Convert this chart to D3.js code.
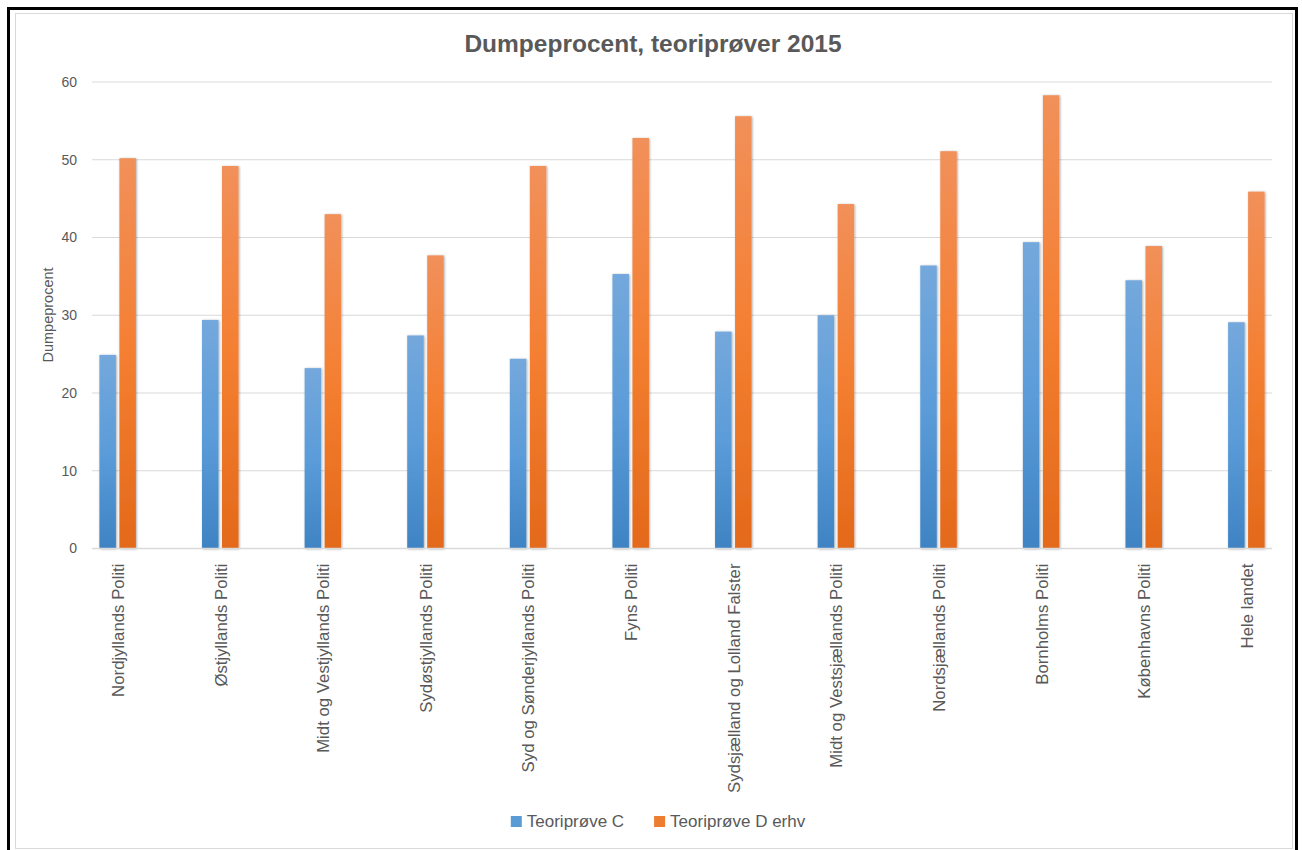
<!DOCTYPE html>
<html>
<head>
<meta charset="utf-8">
<script src="https://cdn.jsdelivr.net/npm/d3@7"></script>
<style>
body { margin: 0; background: #fff; }
text { font-family: "Liberation Sans", Arial, sans-serif; fill: #595959; }
</style>
</head>
<body>
<div id="canvas-container"></div>
<script>
var categories = ["Nordjyllands Politi", "Østjyllands Politi", "Midt og Vestjyllands Politi",
    "Sydøstjyllands Politi", "Syd og Sønderjyllands Politi", "Fyns Politi",
    "Sydsjælland og Lolland Falster", "Midt og Vestsjællands Politi", "Nordsjællands Politi",
    "Bornholms Politi", "Københavns Politi", "Hele landet"];
var teoriC = [24.9, 29.4, 23.2, 27.4, 24.4, 35.3, 27.9, 30.0, 36.4, 39.4, 34.5, 29.1];
var teoriD = [50.2, 49.2, 43.0, 37.7, 49.2, 52.8, 55.6, 44.3, 51.1, 58.3, 38.9, 45.9];
var seriesNames = ["Teoriprøve C", "Teoriprøve D erhv"];
var yTicks = [0, 10, 20, 30, 40, 50, 60];

var W = 1302, H = 850;

function drawChart() {
    var svg = d3.select("#canvas-container").append("svg")
        .attr("width", W)
        .attr("height", H);

    var defs = svg.append("defs");
    function grad(id, top, mid, bot) {
        var g = defs.append("linearGradient").attr("id", id)
            .attr("x1", 0).attr("y1", 0).attr("x2", 0).attr("y2", 1);
        g.append("stop").attr("offset", "0%").attr("stop-color", top);
        g.append("stop").attr("offset", "50%").attr("stop-color", mid);
        g.append("stop").attr("offset", "100%").attr("stop-color", bot);
    }
    grad("gBlue", "#74a8dc", "#5b9cd9", "#3f83c3");
    grad("gOrange", "#f1905a", "#f47f31", "#e3691a");
    var f = defs.append("filter").attr("id", "shadow")
        .attr("x", "-30%").attr("y", "-5%").attr("width", "160%").attr("height", "110%");
    f.append("feDropShadow").attr("dx", 0.8).attr("dy", 0.5)
        .attr("stdDeviation", 1.2).attr("flood-color", "#000").attr("flood-opacity", 0.35);

    // frame
    svg.append("rect").attr("x", 15.5).attr("y", 13.5).attr("width", 1277).attr("height", 835)
        .attr("fill", "#fff").attr("stroke", "#d9d9d9").attr("stroke-width", 1);
    svg.append("rect").attr("x", 8.5).attr("y", 8.5).attr("width", 1288).attr("height", 850)
        .attr("fill", "none").attr("stroke", "#000").attr("stroke-width", 3);

    var left = 92, right = 1272, top = 82, bottom = 548.5;

    var x = d3.scalePoint().domain(categories).range([left, right]).padding(0.25);
    var y = d3.scaleLinear().domain([0, 60]).range([bottom, top]);
    var barW = 16.5, gap = 3.5;

    // gridlines
    svg.append("g").selectAll("line").data(yTicks.slice(1)).enter().append("line")
        .attr("x1", left).attr("x2", right)
        .attr("y1", function (d) { return y(d); })
        .attr("y2", function (d) { return y(d); })
        .attr("stroke", "#d9d9d9").attr("stroke-width", 1);

    // y axis labels
    var yAxis = d3.axisLeft(y).tickValues(yTicks).tickSize(0).tickPadding(15);
    var ya = svg.append("g").attr("transform", "translate(" + left + ",0)").call(yAxis);
    ya.select(".domain").remove();
    ya.selectAll("text").style("font-size", "14px").attr("fill", "#595959");

    // bars
    var series = [
        { vals: teoriC, fill: "url(#gBlue)", off: -gap / 2 - barW },
        { vals: teoriD, fill: "url(#gOrange)", off: gap / 2 }
    ];
    series.forEach(function (s) {
        svg.append("g").selectAll("rect").data(s.vals).enter().append("rect")
            .attr("x", function (d, i) { return x(categories[i]) + s.off; })
            .attr("y", function (d) { return y(d); })
            .attr("width", barW)
            .attr("height", function (d) { return y(0) - y(d); })
            .attr("fill", s.fill)
            .attr("filter", "url(#shadow)");
    });

    // x axis
    var xAxis = d3.axisBottom(x).tickSize(0).tickPadding(0);
    var xa = svg.append("g").attr("transform", "translate(0," + bottom + ")").call(xAxis);
    xa.select(".domain").attr("stroke", "#d9d9d9").attr("stroke-width", 1.5)
        .attr("d", "M" + left + ",0H" + right);
    xa.selectAll("text")
        .style("font-size", "16.8px")
        .attr("fill", "#595959")
        .attr("text-anchor", "end")
        .attr("transform", "translate(0,15) rotate(-90)")
        .attr("x", 0).attr("y", 0).attr("dy", "0.35em");

    // y title
    svg.append("text")
        .attr("transform", "translate(53,315) rotate(-90)")
        .attr("text-anchor", "middle")
        .style("font-size", "14.5px")
        .text("Dumpeprocent");

    // title
    svg.append("text")
        .attr("x", 653).attr("y", 52)
        .attr("text-anchor", "middle")
        .style("font-size", "24.5px")
        .style("font-weight", "bold")
        .text("Dumpeprocent, teoriprøver 2015");

    // legend
    var colors = ["#5b9bd5", "#ed7d31"];
    var lg = svg.append("g");
    var lx = 0;
    seriesNames.forEach(function (name, i) {
        var item = lg.append("g").attr("transform", "translate(" + lx + ",0)");
        item.append("rect").attr("x", 0).attr("y", -11).attr("width", 11).attr("height", 11)
            .attr("fill", colors[i]);
        var t = item.append("text").attr("x", 16).attr("y", 0)
            .style("font-size", "17px").text(name);
        lx += 16 + t.node().getComputedTextLength() + 30;
    });
    var lw = lx - 30;
    lg.attr("transform", "translate(" + (658 - lw / 2) + ",827)");
}

drawChart();
</script>
</body>
</html>
